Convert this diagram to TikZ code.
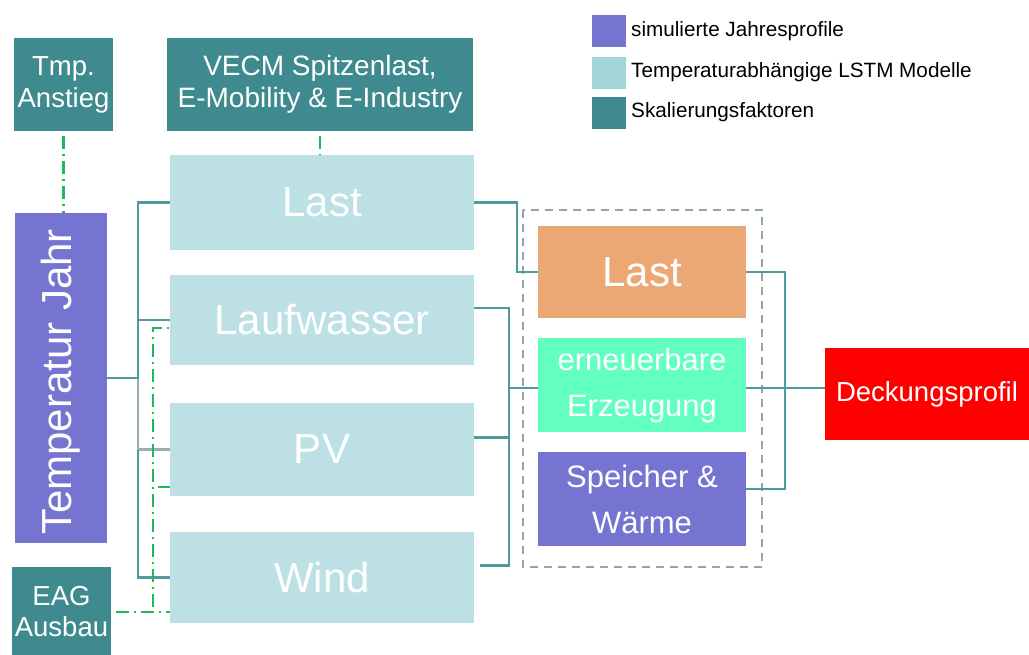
\documentclass[tikz,border=0pt]{standalone}
\usepackage{fontspec}
\setmainfont{Liberation Sans}
\usetikzlibrary{calc}
\definecolor{teal1}{RGB}{62,138,143}
\definecolor{lstm}{RGB}{188,224,227}
\definecolor{lstmleg}{RGB}{161,213,217}
\definecolor{purp}{RGB}{118,116,209}
\definecolor{orng}{RGB}{235,168,116}
\definecolor{mint}{RGB}{99,255,192}
\definecolor{conncol}{RGB}{78,154,158}
\definecolor{conngr}{RGB}{150,176,178}
\definecolor{grn}{RGB}{30,185,90}
\definecolor{grpcol}{RGB}{143,168,168}
\tikzset{
  box/.style={rectangle, inner sep=0pt, text=white, align=center, anchor=center},
  conn/.style={draw=conncol, line width=2.2pt},
  conngray/.style={draw=conngr, line width=2.2pt},
  gdash/.style={draw=grn, line width=2.2pt, dash pattern=on 13pt off 5pt on 2pt off 5pt, dash phase=20pt},
  legtext/.style={anchor=west, inner sep=0pt, font=\fontsize{20.7}{24}\selectfont, text=black},
  legsq/.style={rectangle, inner sep=0pt, minimum width=34pt, minimum height=32pt, anchor=center}
}
\begin{document}
\begin{tikzpicture}[x=1pt,y=-1pt]
\useasboundingbox (0,0) rectangle (1029,655);
% top scaling factors
\node[box, fill=teal1, minimum width=99pt, minimum height=93pt, font=\fontsize{27.5}{32}\selectfont] (tmp) at (63.5,84.5) {Tmp.\\Anstieg};
\node[box, fill=teal1, minimum width=306pt, minimum height=93pt, font=\fontsize{28}{32}\selectfont] (vecm) at (320,84.5) {VECM Spitzenlast,\\E-Mobility \& E-Industry};
% temperature year
\node[box, fill=purp, minimum width=92pt, minimum height=330pt] (tj) at (61,378) {};
\node[box, rotate=90, font=\fontsize{42}{48}\selectfont] (tjt) at ($(tj.center)+(0,4)$) {Temperatur Jahr};
% EAG
\node[box, fill=teal1, minimum width=99pt, minimum height=90pt, font=\fontsize{27.5}{31}\selectfont] (eag) at (61.5,612) {EAG\\Ausbau};
% LSTM boxes
\node[box, fill=lstm, minimum width=304pt, minimum height=95pt, font=\fontsize{42}{48}\selectfont] (last) at (322,202.5) {Last};
\node[box, fill=lstm, minimum width=304pt, minimum height=90pt, font=\fontsize{42}{48}\selectfont] (lauf) at (322,320) {Laufwasser};
\node[box, fill=lstm, minimum width=304pt, minimum height=93pt, font=\fontsize{42}{48}\selectfont] (pv) at (322,449.5) {PV};
\node[box, fill=lstm, minimum width=304pt, minimum height=91pt, font=\fontsize{42}{48}\selectfont] (wind) at (322,577.5) {Wind};
% dashed group
\draw[draw=grpcol, line width=2pt, dash pattern=on 8pt off 6pt] (523,210) rectangle (762,567);
% right boxes
\node[box, fill=orng, minimum width=208pt, minimum height=92pt, font=\fontsize{42}{48}\selectfont] (rlast) at (642,272) {Last};
\node[box, fill=mint, minimum width=208pt, minimum height=94pt, font=\fontsize{31}{46}\selectfont] (ern) at (642,385) {erneuerbare\\Erzeugung};
\node[box, fill=purp, minimum width=208pt, minimum height=94pt, font=\fontsize{31}{46}\selectfont] (spe) at (642,499) {Speicher \&\\Wärme};
\node[box, fill=red, minimum width=204pt, minimum height=92pt, font=\fontsize{27.5}{32}\selectfont] (deck) at (927,394) {Deckungsprofil};
% legend
\node[legsq, fill=purp] (lg1) at (609,31) {};
\node[legsq, fill=lstmleg] (lg2) at (609,73) {};
\node[legsq, fill=teal1] (lg3) at (609,113) {};
\node[legtext] (lt1) at (631,31) {simulierte Jahresprofile};
\node[legtext] (lt2) at (631,72) {Temperaturabhängige LSTM Modelle};
\node[legtext] (lt3) at (631,112) {Skalierungsfaktoren};
% left teal bracket
\coordinate (bx) at (138,0);
\draw[conngray] (bx |- tj.east) |- (pv.west);
\draw[conn] (last.west) -| (bx |- tj.east) -- (tj.east);
\draw[conn] (lauf.west) -- (lauf.west -| bx);
\draw[conn] (bx |- pv.west) |- (wind.west);
% green dash-dot
\draw[gdash] (tmp.south) -- (tmp.south |- tj.north);
\draw[gdash] (vecm.south) -- (vecm.south |- last.north);
\coordinate (gx) at (153,0);
\draw[gdash] (eag.east) -- (eag.east -| wind.west);
\draw[gdash] (eag.east -| gx) |- ($(lauf.west)+(0,8)$);
\draw[gdash] ($(gx |- pv.west)+(0,37.5)$) -- ($(pv.west)+(0,37.5)$);
% right connectors from LSTM
\coordinate (rx1) at (517,0);
\coordinate (rx2) at (509,0);
\draw[conn] (last.east) -| (rx1 |- rlast.west) -- (rlast.west);
\draw[conn] ($(lauf.east)+(0,-12)$) -| ($(rx2 |- wind.east)+(0,-12)$) -- ($(wind.east)+(6,-12)$);
\draw[conn] ($(pv.east)+(0,-12)$) -- ($(rx2 |- pv.east)+(0,-12)$);
\draw[conn] ($(rx2 |- ern.west)+(0,3)$) -- ($(ern.west)+(0,3)$);
% right bracket
\coordinate (rx3) at (785,0);
\draw[conn] (rlast.east) -| ($(rx3 |- spe.east)+(0,-10)$) -- ($(spe.east)+(0,-10)$);
\draw[conn] ($(ern.east)+(0,3)$) -- ($(ern.east -| deck.west)+(0,3)$);
\end{tikzpicture}
\end{document}
